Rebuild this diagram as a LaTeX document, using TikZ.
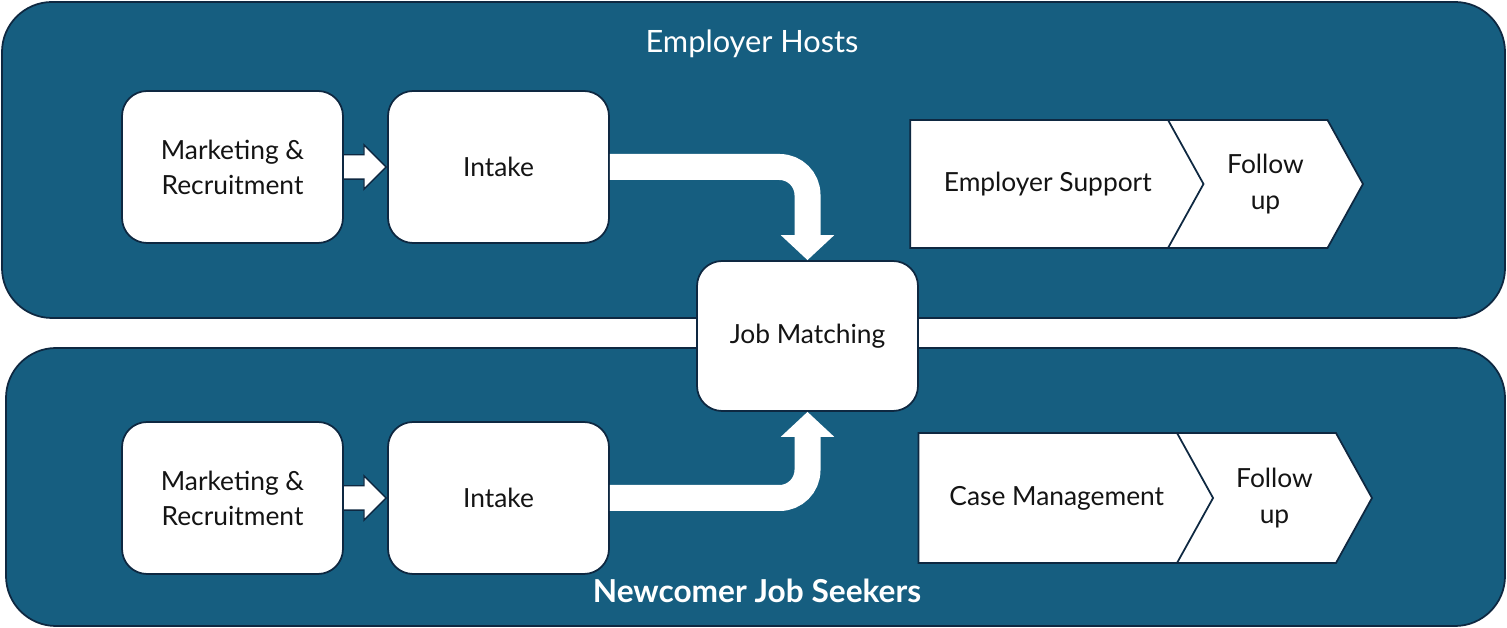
\documentclass[tikz,border=0pt]{standalone}
\usepackage{fontspec}
\setmainfont{Lato}
\usetikzlibrary{shapes.symbols,shapes.arrows,arrows.meta,positioning}

\definecolor{panelblue}{RGB}{22,94,128}
\definecolor{edgeblue}{RGB}{14,40,65}
\definecolor{textgray}{RGB}{20,20,20}

\begin{document}
\begin{tikzpicture}[
    x=0.02cm, y=0.02cm,
    panel/.style={fill=panelblue, draw=edgeblue, line width=1pt, rounded corners=1cm},
    stepbox/.style={rectangle, rounded corners=0.5cm, fill=white, draw=edgeblue, line width=1pt,
        minimum width=4.42cm, minimum height=3.04cm, align=center, text=textgray,
        font=\fontsize{15}{20}\selectfont},
    chevron/.style={signal, signal to=east, signal pointer angle=122, fill=white, draw=edgeblue,
        line width=1pt, minimum height=2.56cm, inner sep=0pt, align=center, text=textgray,
        font=\fontsize{15}{20}\selectfont},
    pusharrow/.style={single arrow, fill=white, draw=edgeblue, line width=0.8pt,
        minimum height=0.86cm, inner xsep=0pt, inner ysep=0.23cm, single arrow head extend=0.2cm},
    bigarrow/.style={white, line width=0.52cm, rounded corners=0.56cm,
        -{Triangle[width=1.04cm,length=0.5cm]}},
    title/.style={text=white, font=\fontsize{17.5}{20}\selectfont}
]
    \useasboundingbox (0,0) rectangle (1507,628);

    % --- PANELS ---
    \draw[panel] (2,626) rectangle (1505,310);
    \draw[panel] (6,280) rectangle (1505,2);

    \node[title] (hosts) at (752,584) {Employer Hosts};
    \node[title, font=\fontsize{18}{20}\selectfont\bfseries] (seekers) at (757,37) {Newcomer Job Seekers};

    % --- EMPLOYER ROW ---
    \node[stepbox] (mkt1) at (232.5,461) {Marketing \&\\Recruitment};
    \node[stepbox] (intake1) at (498.5,461) {Intake};
    \path (mkt1) -- node[pusharrow, pos=1, anchor=tip] (push1) {} (intake1);

    \node[chevron, minimum width=6.21cm] (support) at (1047.75,444) {Employer Support};
    \node[chevron, signal from=west, minimum width=3.9cm] (follow1) at (1265.5,444) {Follow\\up};

    % --- JOB MATCHING ---
    \node[stepbox, minimum height=3cm] (match) at (807.5,292) {Job Matching};

    % --- SEEKER ROW ---
    \node[stepbox] (mkt2) at (232.5,130) {Marketing \&\\Recruitment};
    \node[stepbox] (intake2) at (498.5,130) {Intake};
    \path (mkt2) -- node[pusharrow, pos=1, anchor=tip] (push2) {} (intake2);

    \node[chevron, minimum width=6.25cm, minimum height=2.6cm] (casemgmt) at (1056.75,130) {Case Management};
    \node[chevron, signal from=west, minimum width=3.9cm, minimum height=2.6cm] (follow2) at (1274.5,130) {Follow\\up};

    % bent arrows into the matching step
    \draw[bigarrow] (intake1.east) -| (match.north);
    \draw[bigarrow] (intake2.east) -| (match.south);

\end{tikzpicture}
\end{document}
